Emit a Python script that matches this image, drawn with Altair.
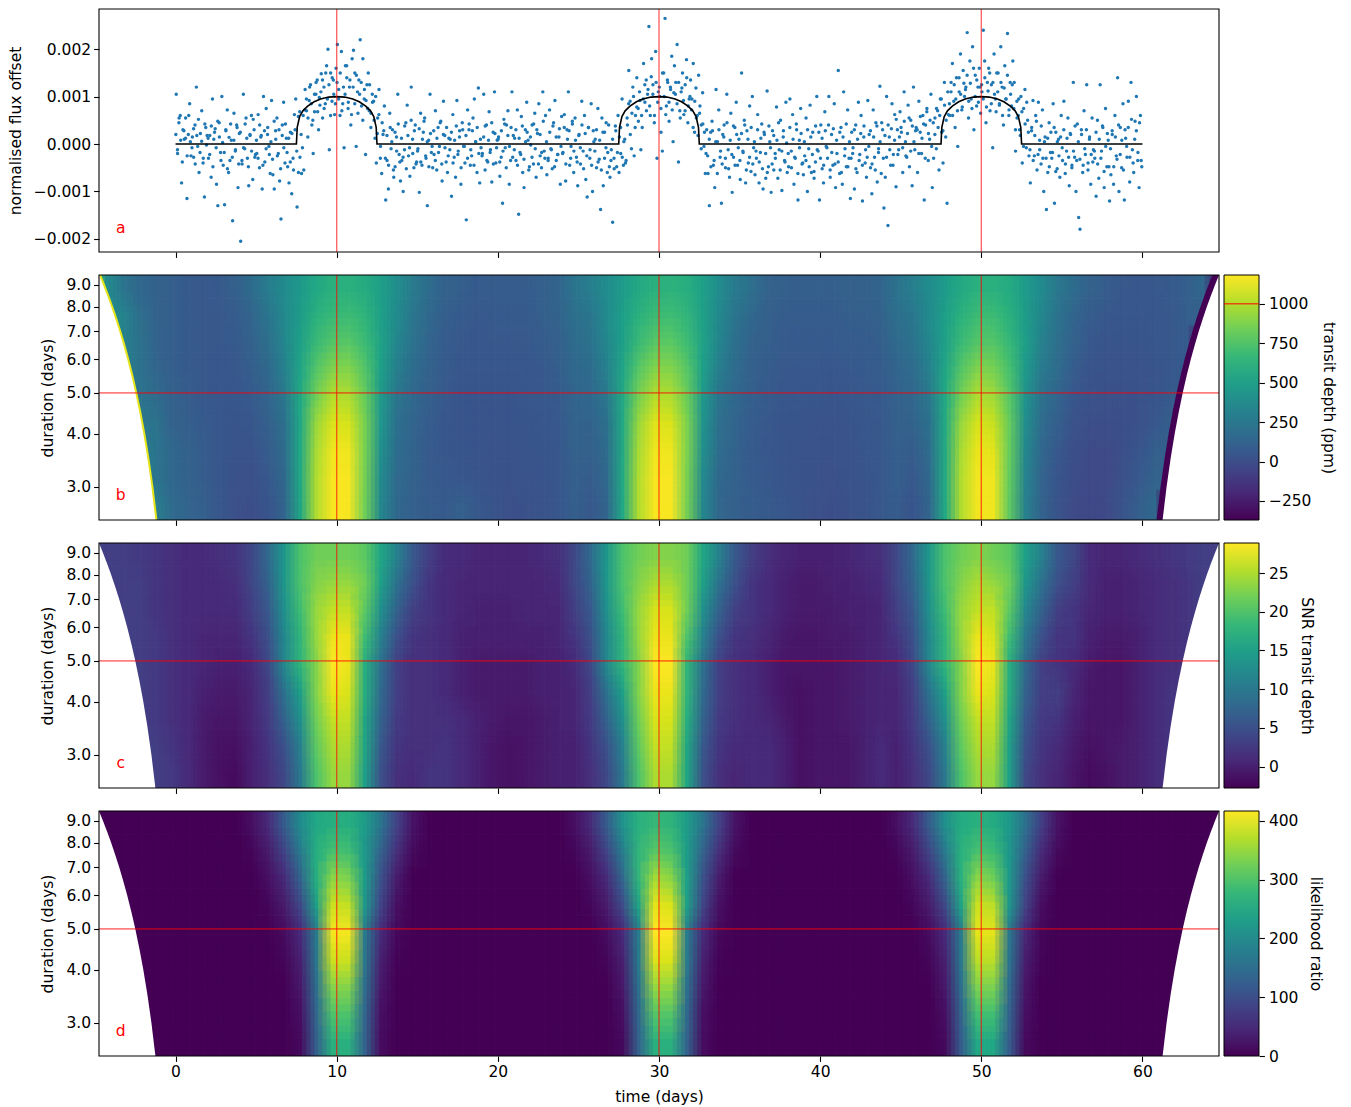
import altair as alt
import pandas as pd

alt.data_transformers.disable_max_rows()

# ---------- panel a ----------
flux_by_day = [
[105,-20,45,60,-82,30,10,55,-115,20,85,-25],
[15,-28,40,120,-5,-60,22,70,-40,-112,35,18],
[-30,18,-70,95,10,32,-85,-130,45,-18,100,-45],
[-128,28,72,-60,-35,8,-162,65,-15,40,-92,22],
[-205,-42,105,-10,55,-30,-88,18,60,-75,30,-22],
[-20,62,-50,15,-95,100,-38,75,20,-5,-62,92],
[-65,-95,28,55,-20,-78,-158,40,88,-40,12,-48],
[-82,25,-105,-30,62,95,-133,-60,68,20,-8,-55],
[115,70,15,92,125,40,-20,68,105,135,30,82],
[148,55,120,85,165,200,-12,150,90,135,62,160],
[210,115,60,195,85,-8,165,140,75,120,40,180],
[198,150,-5,110,135,220,80,180,95,-22,125,150],
[125,65,105,90,12,-40,55,115,-30,-62,20,80],
[-118,-35,-95,65,-10,30,-70,-48,15,105,-22,-78],
[-35,-100,-12,45,82,-25,-68,120,10,-50,40,-38],
[-10,-102,65,-45,25,55,-30,-130,8,105,-18,-50],
[-22,70,-55,35,-5,48,-78,90,18,-38,-60,12],
[10,-110,62,-28,-70,92,-15,28,-85,45,-5,-40],
[-160,72,30,-45,-25,55,95,5,-60,118,-82,-8],
[-20,105,-55,40,-38,68,-12,-80,25,110,-40,8],
[15,-68,-28,-125,52,-8,40,70,-85,-35,110,18],
[12,-35,72,-148,-18,58,-60,-92,30,88,8,-48],
[-2,40,-42,65,-70,22,85,-25,-50,110,-15,60],
[-65,-30,72,-10,-52,45,92,-35,-22,15,-85,58],
[-18,62,-78,30,110,-45,-5,42,-60,55,-28,-88],
[20,-42,90,-15,60,-75,-112,35,-30,85,-100,5],
[10,-50,75,-32,-138,55,-88,25,-8,-60,40,-70],
[-12,-165,-30,38,-48,60,15,-20,95,-45,10,-35],
[40,155,90,-10,120,-25,60,140,75,110,-12,35],
[170,88,135,105,248,60,180,125,45,195,-30,110],
[100,25,-15,150,265,80,130,48,120,185,5,165],
[130,210,-38,70,110,150,62,125,178,45,95,135],
[95,170,25,118,60,145,80,40,108,-5,-62,30],
[-62,-130,25,48,-45,-92,115,5,72,-28,-125,20],
[40,-50,105,-12,-70,65,-102,-28,35,88,-45,10],
[-75,150,-15,50,-82,28,-40,80,-58,100,-8,-65],
[-30,62,-82,-18,42,-95,20,-72,112,-48,5,-102],
[28,-55,-20,78,-72,-12,50,-98,15,-35,88,-60],
[-48,95,-15,62,-85,-30,30,-118,8,75,-42,-65],
[-25,55,-100,-10,82,-60,25,-72,-38,100,-15,-118],
[40,-52,-82,68,-5,-30,100,-70,20,-45,85,-92],
[-20,155,-62,35,-85,110,-10,-48,72,-30,-115,25],
[-8,-95,40,-60,88,-22,60,-120,15,-40,-70,92],
[20,-50,-105,72,-28,45,-80,-10,122,-62,30,-135],
[-70,100,-172,15,-45,85,-22,62,-90,30,-12,68],
[25,-60,110,5,-28,82,-48,50,-88,120,-12,35],
[-60,90,25,-20,60,-118,40,75,-35,10,105,-92],
[-30,55,-10,70,-55,95,25,-40,130,15,-125,62],
[60,130,170,90,35,140,-5,110,190,72,155,100],
[120,235,55,175,95,205,30,145,80,120,160,65],
[110,240,175,45,130,160,70,125,-8,190,95,150],
[150,85,205,120,40,165,95,233,60,130,80,175],
[130,-15,90,60,30,100,-40,75,115,-8,50,-25],
[-82,35,92,-25,60,-55,88,-12,-42,72,-100,15],
[-138,-60,45,-18,-30,85,-125,25,-52,10,-70,60],
[-35,90,-62,-15,55,-88,20,-45,130,-28,-100,42],
[-155,-180,30,-60,70,-22,125,-40,10,-85,55,-12],
[-30,-110,50,-72,125,-15,35,-92,75,-48,8,-120],
[-65,20,-85,60,-25,140,-100,35,-50,85,-118,12],
[-28,90,-80,130,-12,-60,48,100,-35,-92,60,-48],
]
flux_by_day_extra = [
[20,-12,55,8,-38,28,12,-25,60,5],
[-8,32,-42,18,52,-18,6,-30,42,-2],
[12,-22,38,-48,25,-8,48,15,-35,3],
[-18,30,-52,14,42,-28,8,-12,35,-42],
[25,-35,-8,42,12,-48,20,-15,52,-28],
[8,-30,40,18,-45,28,-10,35,-22,5],
[-32,48,10,-25,30,-52,18,-8,42,-18],
[12,-38,22,-55,30,-15,58,-28,-62,60],
[72,95,55,120,85,50,105,130,68,98],
[110,135,75,150,95,125,60,140,105,85],
[130,95,150,70,120,105,165,88,135,62],
[120,85,145,65,105,130,50,115,92,75],
[70,35,88,50,100,22,62,-5,45,28],
[-30,18,-45,35,5,-55,25,-15,42,-38],
[12,-28,38,-52,18,-8,50,-20,28,-42],
[-15,32,-38,10,48,-25,5,-48,22,-5],
[28,-35,12,-18,45,-42,20,-8,35,-25],
[-12,25,-40,8,38,-22,15,-50,30,-5],
[18,-30,42,-12,28,-45,5,35,-20,10],
[-25,15,38,-35,8,-18,45,-42,22,-8],
[10,-38,28,-15,42,-50,18,-5,35,-28],
[-12,30,-45,12,-22,38,-32,5,25,-55],
[15,-28,42,-10,30,-42,20,-18,48,-30],
[5,-35,25,-12,38,-48,15,-22,32,-5],
[-20,35,-42,10,28,-30,48,-15,8,-38],
[18,-8,40,-52,22,-25,35,-12,-45,28],
[-15,30,-38,8,-55,25,-30,45,-18,-48],
[-35,10,-52,28,-18,-60,35,-28,5,-40],
[55,85,20,65,100,35,78,48,92,60],
[95,125,70,115,80,142,105,60,130,88],
[120,75,150,100,62,135,88,115,72,108],
[105,85,130,55,118,92,70,140,80,100],
[72,35,90,55,18,65,-10,42,25,-20],
[-25,10,-48,28,-35,5,-62,30,-15,-42],
[15,-30,45,-52,8,-22,38,-45,20,-8],
[-35,22,-18,40,-55,10,-28,35,-42,5],
[-15,30,-38,12,-52,25,-20,-60,38,-8],
[-42,18,-30,8,45,-55,-15,28,-38,2],
[-20,35,-50,10,-28,42,-62,-8,22,-40],
[5,-35,30,-48,15,-22,-58,38,-12,25],
[-30,12,-45,28,-8,40,-55,-18,32,-42],
[8,-38,25,-60,15,-25,42,-48,5,-30],
[-20,30,-52,10,-35,22,-45,38,-12,-28],
[-5,28,-42,15,-55,38,-18,5,45,-30],
[18,-28,40,-12,32,-45,8,52,-22,15],
[35,-8,48,-25,22,55,-15,38,5,28],
[30,-20,58,12,42,-30,68,22,50,-5],
[45,20,75,35,60,95,28,82,50,110],
[85,110,60,125,95,70,140,105,78,128],
[115,145,90,128,75,160,100,135,88,120],
[125,95,140,78,112,150,85,130,105,68],
[110,82,130,60,118,95,145,72,105,125],
[75,30,55,95,18,68,-5,42,88,25],
[-12,28,-35,18,48,-22,8,38,-30,5],
[-30,12,-48,25,-18,35,-58,5,-25,15],
[-8,30,-42,12,-28,22,-50,-15,38,-35],
[5,-32,20,-45,-10,30,-55,15,-22,-38],
[-15,25,-42,10,-30,38,-58,-5,22,-48],
[-10,28,-48,15,-32,40,-22,8,-55,30],
[-5,35,-28,52,-40,10,28,-18,45,-35],
]
flux_unit = 1e-5
model_t = [0,7.5,7.55,7.7,7.9,8.2,8.6,9,9.5,10,10.5,11,11.4,11.8,12.1,12.3,12.45,12.5,
           27.5,27.55,27.7,27.9,28.2,28.6,29,29.5,30,30.5,31,31.4,31.8,32.1,32.3,32.45,32.5,
           47.5,47.55,47.7,47.9,48.2,48.6,49,49.5,50,50.5,51,51.4,51.8,52.1,52.3,52.45,52.5,60]
model_y = [0,0,35,58,70,80,89,95,99,100,99,95,89,80,70,58,35,0,
           0,35,58,70,80,89,95,99,100,99,95,89,80,70,58,35,0,
           0,35,58,70,80,89,95,99,100,99,95,89,80,70,58,35,0,0]
transit_times = [10, 30, 50]

# ---------- heat maps ----------
time_columns = list(range(-5, 66))
duration_edges = [2.5, 2.9, 3.37, 3.91, 4.54, 5.27, 6.12, 7.1, 8.2, 9.5]

depth_rows = [
[1100,1100,1100,350,300,170,130,100,50,10,-10,40,130,550,1000,1170,1170,850,350,150,100,80,70,100,60,30,10,20,30,50,90,60,130,560,1000,1170,1170,860,340,140,100,80,70,50,30,10,0,20,30,60,80,40,130,560,1000,1160,1150,800,300,120,30,-20,-40,-30,30,90,150,-350,-350,-350,-350],
[1100,1100,1100,300,230,150,110,80,50,20,10,60,150,560,1000,1170,1170,860,370,160,110,70,60,50,40,30,20,30,40,50,100,80,150,570,1000,1170,1170,870,360,150,110,70,60,40,30,20,10,30,40,60,90,60,150,570,1000,1160,1150,810,320,130,40,-10,-30,-20,10,60,120,120,-300,-300,-300],
[1100,1100,1100,300,230,150,110,80,50,30,30,80,170,560,980,1150,1150,870,400,180,120,70,50,40,40,30,30,40,40,50,110,100,170,570,980,1150,1150,880,390,170,120,70,50,40,30,30,20,30,50,60,90,80,170,570,980,1140,1120,820,350,150,60,0,-20,-20,0,40,90,100,-300,-300,-300],
[1100,1100,1100,250,230,120,90,70,50,40,50,100,200,560,950,1100,1090,870,440,200,130,80,50,40,40,40,40,40,50,60,120,120,200,570,950,1110,1100,880,430,190,130,80,60,40,40,30,30,40,50,60,100,110,200,570,940,1090,1060,820,390,170,90,20,0,-10,0,20,50,90,-300,-300,-300],
[1100,1100,300,220,170,110,80,60,50,50,70,130,250,560,850,1010,1000,820,470,240,150,90,60,40,40,40,40,50,60,70,130,150,250,570,860,1010,1000,830,460,230,150,90,70,50,50,50,40,50,60,70,110,140,250,560,850,1000,970,780,430,210,130,50,20,10,10,20,40,70,80,-300,-300],
[1100,1100,300,220,140,90,70,60,50,60,90,150,300,540,770,890,900,770,510,290,180,110,70,50,50,50,50,50,60,90,150,180,300,540,780,900,900,780,500,280,170,100,80,60,60,60,50,60,70,80,130,170,300,540,770,890,870,730,470,260,170,80,40,30,30,30,40,60,70,-300,-300],
[1100,400,300,220,130,90,70,60,60,70,110,190,340,510,680,770,780,690,530,340,210,130,80,60,50,60,60,60,80,100,170,210,340,510,680,780,790,700,520,330,200,120,90,70,70,70,70,80,80,90,160,210,340,510,680,770,770,670,500,310,190,110,60,40,40,40,50,60,80,-300,-300],
[1100,400,330,190,120,90,70,60,60,80,140,230,360,490,620,680,690,640,510,370,240,150,90,70,60,70,70,70,90,120,200,240,370,500,620,690,700,650,510,360,230,150,100,80,80,80,80,90,90,110,190,240,370,500,620,690,690,620,490,350,220,130,80,60,50,50,50,60,90,100,-300],
[800,380,230,150,110,90,70,60,70,100,180,280,370,470,560,610,620,590,500,390,270,180,110,90,70,80,80,80,100,130,230,290,380,480,570,620,630,600,500,380,260,190,120,100,90,90,90,100,100,130,220,290,380,480,570,620,620,580,480,370,250,180,110,80,60,50,60,70,90,150,-300],
]

snr_rows = [
[3,3,3,3,3,2.5,1,-0.5,-1.5,-2,0,1.5,4,10,20,24,24,15,5,1.5,1,2,2,1,0,-1,-1.5,-1,-0.5,0,0,1.5,4,10,20,25,25,16,5,1.5,0.5,1,1,0,-1.5,-1,-1,-1,0,1,0,1.5,4,10,20,24,24,15,4,1.5,0.5,-1,-2,-1.5,-0.5,0,1,2,2,3,3],
[3,3,3,3,3,2,1,-0.5,-1.5,-1.5,0,2,5,11,21,25,25,16,6,2,1.5,1.5,2,1,0,-1,-1.5,-1,-0.5,0,0,2,5,11,21,26,26,16,6,2,1,1,1,0,-1.5,-1,-1,-1,0,1,0,2,5,11,21,25,25,15,5,2,1,-0.5,-1.5,-1,-0.5,0,1,2,2,3,3],
[3,3,3,3,2.5,1.5,1,-0.5,-1,-1,0.5,2.5,7,13,22,26,26,16,7,2.5,1.5,1.5,1.5,1,0,-0.5,-1,-1,-0.5,0,0.5,2.5,7,13,22,27,27,17,7,2.5,1.5,1,0.5,-0.5,-1.5,-1,-1,-0.5,0,0.5,0.5,2.5,7,13,22,26,26,16,6,2.5,2,0,-1,-1,-1,0,1,2,2,3,3],
[3,3,3,3,2.5,1.5,1,0,-0.5,-0.5,0.5,3,9,15,23,28,27,17,8,3,1.5,1.5,1,0,-0.5,-0.5,-0.5,-0.5,0,0,0.5,3,9,15,23,28,28,18,8,3,1.5,1,0,-1,-1.5,-1,-1,-0.5,0,0.5,0.5,3,9,15,23,28,27,17,7,3,3,0.5,-1,-1,-1,0,1,2,2,3,3],
[3,3,3,3,2.5,1.5,1,0.5,0,0,1,4,12,18,23,29,28,17,9,3,1.5,1.5,1,0,-0.5,-0.5,-0.5,-0.5,0,0,1,4,12,18,23,29,29,18,9,3,1.5,1,0,-1,-1,-1,-1,-0.5,0,0.5,1,4,12,18,23,29,28,17,8,3,2,1,-0.5,-1,-1,0,1,1.5,2,3,3],
[3,3,3,3,2.5,1.5,1,0.5,0.5,0.5,2,5,12,18,24,28,28,19,11,5,2,1.5,1,0,0,0,0,0,0,0.5,2,5,12,18,24,28,28,20,11,5,2,1.5,0.5,-0.5,-1,-1,-0.5,-0.5,0,0.5,2,5,12,18,24,28,27,19,10,5,2,2,0,-0.5,-0.5,0,1,1.5,2,3,3],
[3,3,3,3,2,1.5,1,1,1,1,3,6,13,19,24,26,26,21,13,7,3,2,1,0.5,0,0,0,0.5,0.5,0.5,3,6,13,19,24,27,27,22,13,7,3,2,1,0,-0.5,-0.5,-0.5,0,0,0.5,3,6,13,19,24,26,26,21,12,7,3,2,0.5,0,0,0.5,1,1.5,2,3,3],
[3,3,3,3,2,1.5,1,1,1,1.5,4,7,14,20,23,24,24,22,15,9,5,2,1,0.5,0.5,0.5,0.5,0.5,0.5,1,4,7,14,20,23,25,25,22,15,9,5,2,1,0,-0.5,-0.5,0,0,0.5,1,4,7,14,20,23,25,24,22,14,9,5,3,1,0,0,0.5,1,1.5,2,3,3],
[3,3,3,2.5,2,1.5,1,1,1.5,2,4,8,14,20,22,22,22,21,16,11,6,3,1,1,0.5,0.5,0.5,0.5,1,1.5,4,8,14,20,22,23,23,22,16,11,6,3,1.5,0.5,0,0,0,0.5,1,1.5,4,8,14,20,22,23,22,21,15,11,6,4,1,0.5,0.5,1,1.5,2,2.5,3,3],
]

like_windows = [
([0,0,0,0,0,10,125,265,265,130,12,0,0,0,0],[0,0,0,0,0,10,130,265,265,130,12,0,0,0,0],[0,0,0,0,0,10,120,250,250,120,10,0,0,0,0]),
([0,0,0,0,0,15,135,300,300,135,15,0,0,0,0],[0,0,0,0,0,15,140,305,305,140,15,0,0,0,0],[0,0,0,0,0,15,130,290,290,130,15,0,0,0,0]),
([0,0,0,0,0,25,150,340,340,150,25,0,0,0,0],[0,0,0,0,0,25,155,350,350,155,25,0,0,0,0],[0,0,0,0,0,25,150,335,335,145,22,0,0,0,0]),
([0,0,0,0,5,35,165,385,385,165,35,3,0,0,0],[0,0,0,0,5,35,170,395,395,170,35,3,0,0,0],[0,0,0,0,5,35,165,375,375,160,32,3,0,0,0]),
([0,0,0,0,12,50,170,410,410,170,50,8,0,0,0],[0,0,0,0,12,50,175,417,417,175,50,8,0,0,0],[0,0,0,0,12,50,170,400,400,165,45,5,0,0,0]),
([0,0,0,5,30,90,235,385,380,225,85,15,0,0,0],[0,0,0,5,30,95,245,400,395,235,85,15,0,0,0],[0,0,0,5,30,90,240,385,375,220,80,12,0,0,0]),
([0,0,0,15,50,130,260,345,335,230,105,30,0,0,0],[0,0,0,15,50,135,275,360,345,235,105,30,0,0,0],[0,0,0,15,50,130,265,345,325,225,100,28,0,0,0]),
([0,0,5,30,85,170,260,295,290,225,130,55,10,0,0],[0,0,5,30,85,175,275,310,300,230,130,55,10,0,0],[0,0,5,30,85,170,265,295,285,220,125,50,10,0,0]),
([0,0,15,50,120,200,250,260,260,230,160,80,20,0,0],[0,0,15,50,120,210,265,280,270,230,160,80,20,0,0],[0,0,15,50,120,205,255,265,255,225,155,75,20,0,0]),
]
like_rows = [[0]*8 + a + [0]*5 + b + [0]*5 + c + [0]*8 for a, b, c in like_windows]

edge_durations = [2.5, 3, 3.5, 4, 4.5, 5, 5.5, 6, 6.5, 7, 7.5, 8, 8.5, 9, 9.5]
edge_left = [-1.25, -1.5, -1.75, -2, -2.25, -2.5, -2.75, -3, -3.25, -3.5, -3.75, -4, -4.25, -4.5, -4.75]
edge_right = [61.25, 61.5, 61.75, 62, 62.25, 62.5, 62.75, 63, 63.25, 63.5, 63.75, 64, 64.25, 64.5, 64.75]

viridis_stops = ["#440154","#482878","#3e4989","#31688e","#26828e","#1f9e89","#35b779","#6ece58","#b5de2b","#fde725"]

X_DOM = [-4.75, 64.75]
Y_DOM = [2.5, 9.5]
W, H = 1120, 245
FONT = 15.5
TICK = 5.4
X_TICKS = [0, 10, 20, 30, 40, 50, 60]
Y_TICKS = [3, 4, 5, 6, 7, 8, 9]
COLUMN_SHIFT = -0.25
# the cell layers that soften the grid: shift in columns and in rows, and opacity
SOFT_LAYERS = [(-0.375, 0.125, 1.0), (-0.125, -0.375, 0.5), (0.125, 0.375, 1 / 3), (0.375, -0.125, 0.25)]


def x_enc(field, labels, title=None):
    return alt.X(field, type="quantitative", scale=alt.Scale(domain=X_DOM, nice=False, zero=False),
                 axis=alt.Axis(values=X_TICKS, labels=labels, title=title, grid=False, domain=False,
                               tickSize=TICK, tickWidth=1.1, tickColor="black", format="d", labelPadding=3,
                               titlePadding=10))


def y_log(field, axis=None):
    return alt.Y(field, type="quantitative", scale=alt.Scale(type="log", domain=Y_DOM, nice=False), axis=axis)


def frame():
    return alt.Chart(pd.DataFrame({"f": [0]})).mark_rect(filled=False, stroke="black", strokeWidth=1.1).encode(
        x=alt.value(0), x2=alt.value(W), y=alt.value(0), y2=alt.value(H))


def heat_panel(rows, letter, cdom, bar_ticks, bar_title, labels, xtitle=None, edges=False, mark_value=None):
    cscale = alt.Scale(scheme="viridis", domain=cdom, clamp=True)
    layers = []
    for n, (dx, dy, op) in enumerate(SOFT_LAYERS):
        cells = []
        for r, row in enumerate(rows):
            lo, hi = duration_edges[r], duration_edges[r + 1]
            ratio = hi / lo
            d0 = lo * ratio ** dy if r > 0 else 2.0
            d1 = hi * ratio ** dy if r < len(rows) - 1 else 11.0
            for c, v in enumerate(row):
                t = time_columns[c] + dx + COLUMN_SHIFT
                cells.append({"t0": t - 0.5, "t1": t + 0.5, "d0": d0, "d1": d1, "v": v})
        if n == 0:
            base = alt.Chart(pd.DataFrame(cells)).mark_rect(clip=True, strokeWidth=0.6, opacity=op).encode(
                x=x_enc("t0", labels, xtitle), x2="t1",
                y=y_log("d0", alt.Axis(values=Y_TICKS, format=".1f", title="duration (days)", grid=False, domain=False,
                                       tickSize=TICK, tickWidth=1.1, tickColor="black", labelPadding=3, titlePadding=10)),
                y2="d1",
                color=alt.Color("v:Q", scale=cscale, legend=None),
                stroke=alt.Stroke("v:Q", scale=cscale, legend=None),
            )
        else:
            base = alt.Chart(pd.DataFrame(cells)).mark_rect(clip=True, opacity=op).encode(
                x=x_enc("t0", labels, xtitle), x2="t1",
                y=y_log("d0"), y2="d1",
                color=alt.Color("v:Q", scale=cscale, legend=None),
            )
        layers.append(base)
    edf = pd.DataFrame({"d": edge_durations, "l": edge_left, "r": edge_right,
                        "lo": [X_DOM[0]] * len(edge_durations), "hi": [X_DOM[1]] * len(edge_durations)})
    if edges:
        layers.append(alt.Chart(edf).mark_line(color="#e5e419", strokeWidth=4, clip=True).encode(
            x=x_enc("l", labels, xtitle), y=y_log("d"), order="d"))
        layers.append(alt.Chart(edf).mark_line(color="#440154", strokeWidth=12, clip=True).encode(
            x=x_enc("r", labels, xtitle), y=y_log("d"), order="d"))
    layers.append(alt.Chart(edf).mark_area(color="white", orient="horizontal", clip=True).encode(
        x=x_enc("lo", labels, xtitle), x2="l", y=y_log("d")))
    layers.append(alt.Chart(edf).mark_area(color="white", orient="horizontal", clip=True).encode(
        x=x_enc("r", labels, xtitle), x2="hi", y=y_log("d")))
    layers.append(alt.Chart(pd.DataFrame({"t": transit_times})).mark_rule(color="red", opacity=0.6, strokeWidth=1.4).encode(
        x=x_enc("t", labels, xtitle)))
    layers.append(alt.Chart(pd.DataFrame({"d": [5.0]})).mark_rule(color="red", opacity=0.5, strokeWidth=1.8).encode(
        y=y_log("d")))
    layers.append(alt.Chart(pd.DataFrame({"t": [-3.4], "d": [2.87], "s": [letter]})).mark_text(
        color="red", fontSize=FONT, align="center", baseline="middle").encode(
        x=x_enc("t", labels, xtitle), y=y_log("d"), text="s"))
    layers.append(frame())
    bar_scale = alt.Scale(domain=cdom, nice=False, zero=False)
    grad = alt.Gradient(gradient="linear", x1=0, x2=0, y1=1, y2=0,
                        stops=[alt.GradientStop(color=c, offset=i / (len(viridis_stops) - 1))
                               for i, c in enumerate(viridis_stops)])
    layers.append(alt.Chart(pd.DataFrame({"a": [cdom[0]], "b": [cdom[1]]})).mark_rect(
        fill=grad, stroke="black", strokeWidth=1).encode(
        x=alt.value(W + 5), x2=alt.value(W + 40),
        y=alt.Y("a:Q", scale=bar_scale,
                axis=alt.Axis(orient="right", offset=40, values=bar_ticks, title=bar_title, titleAngle=90,
                              format="d", grid=False, domain=False, tickSize=TICK, tickWidth=1.1, tickColor="black",
                              labelPadding=4, titlePadding=10, titleBaseline="bottom")),
        y2="b:Q"))
    if mark_value is not None:
        layers.append(alt.Chart(pd.DataFrame({"m": [mark_value]})).mark_rule(color="red", strokeWidth=1).encode(
            x=alt.value(W + 5), x2=alt.value(W + 40),
            y=alt.Y("m:Q", scale=bar_scale, axis=None)))
    return alt.layer(*layers).resolve_scale(y="independent").properties(width=W, height=H)


# panel a assembly
pts = []
for day, vals in enumerate(flux_by_day):
    for i, v in enumerate(vals):
        pts.append({"t": day + (i + 0.5) / len(vals), "f": v * flux_unit})
for day, vals in enumerate(flux_by_day_extra):
    for i, v in enumerate(vals):
        pts.append({"t": day + (i + 0.2) / len(vals), "f": v * flux_unit})
HA = 243
A_DOM = [-0.002278, 0.002848]
a_y = alt.Scale(domain=A_DOM, nice=False, zero=False)
a_pts = alt.Chart(pd.DataFrame(pts)).mark_point(filled=True, size=12, color="#1f77b4", opacity=1).encode(
    x=x_enc("t", False),
    y=alt.Y("f:Q", scale=a_y,
            axis=alt.Axis(values=[-0.002, -0.001, 0, 0.001, 0.002], format=".3f", title="normalised flux offset",
                          grid=False, domain=False, tickSize=TICK, tickWidth=1.1, tickColor="black",
                          labelPadding=3, titlePadding=10)))
a_model = alt.Chart(pd.DataFrame({"t": model_t, "f": [v * flux_unit for v in model_y]})).mark_line(
    color="black", strokeWidth=1.6).encode(x=x_enc("t", False), y=alt.Y("f:Q", scale=a_y))
a_rule = alt.Chart(pd.DataFrame({"t": transit_times})).mark_rule(color="red", opacity=0.6, strokeWidth=1.4).encode(
    x=x_enc("t", False))
a_text = alt.Chart(pd.DataFrame({"t": [-3.4], "f": [-0.00178], "s": ["a"]})).mark_text(
    color="red", fontSize=FONT, align="center", baseline="middle").encode(
    x=x_enc("t", False), y=alt.Y("f:Q", scale=a_y), text="s")
a_frame = alt.Chart(pd.DataFrame({"f": [0]})).mark_rect(filled=False, stroke="black", strokeWidth=1.1).encode(
    x=alt.value(0), x2=alt.value(W), y=alt.value(0), y2=alt.value(HA))
panel_a = alt.layer(a_pts, a_model, a_rule, a_text, a_frame).properties(width=W, height=HA)

panel_b = heat_panel(depth_rows, "b", [-371, 1183], [-250, 0, 250, 500, 750, 1000], "transit depth (ppm)", False,
                     edges=True, mark_value=1000)
panel_c = heat_panel(snr_rows, "c", [-2.78, 28.9], [0, 5, 10, 15, 20, 25], "SNR transit depth", False)
panel_d = heat_panel(like_rows, "d", [0, 417], [0, 100, 200, 300, 400], "likelihood ratio", True, xtitle="time (days)")

chart = alt.vconcat(panel_a, panel_b, panel_c, panel_d, spacing=16).resolve_scale(
    color="independent", stroke="independent"
).properties(
    padding={"left": 0, "top": 0, "right": 4, "bottom": 0}
).configure(font="DejaVu Sans").configure_axis(
    labelFontSize=FONT, titleFontSize=FONT, labelColor="black", titleColor="black",
    titleFontWeight="normal", labelFont="DejaVu Sans", titleFont="DejaVu Sans"
).configure_view(stroke=None)

chart.save("out.html", embed_options={"renderer": "svg", "actions": False})
